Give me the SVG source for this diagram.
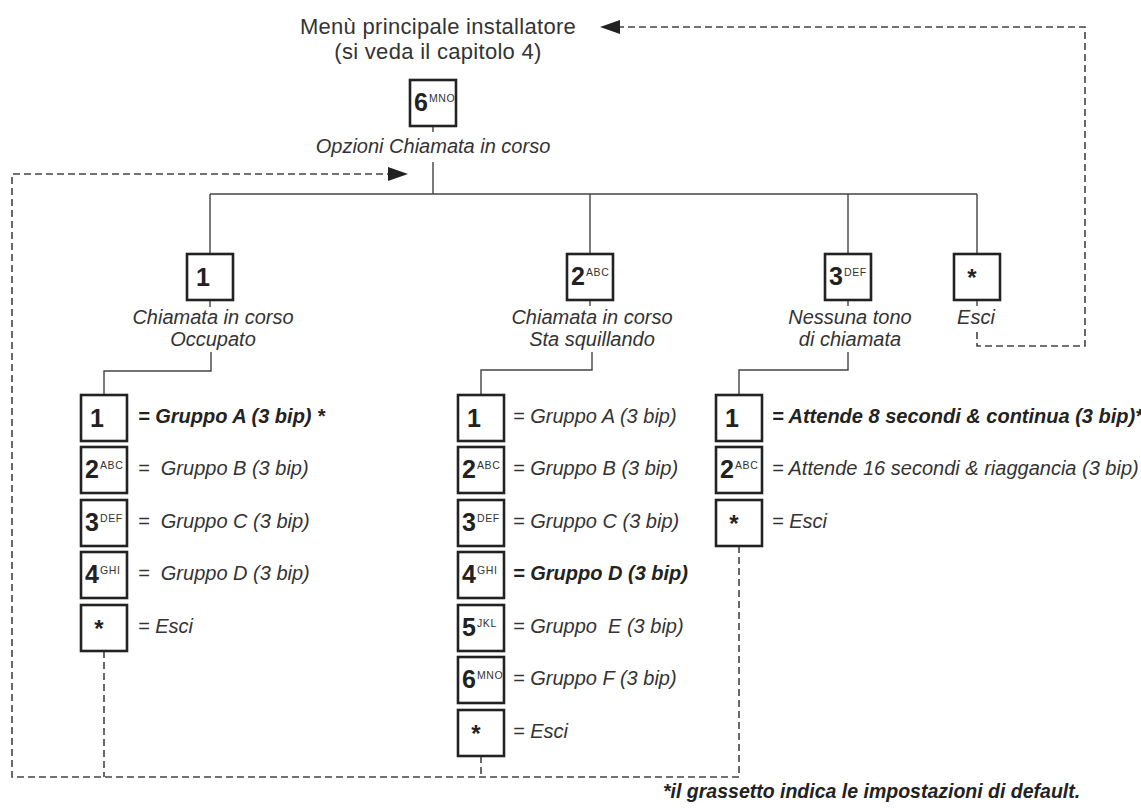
<svg xmlns="http://www.w3.org/2000/svg" width="1141" height="809" viewBox="0 0 1141 809">
<defs>
<marker id="ah" markerUnits="userSpaceOnUse" markerWidth="22" markerHeight="16" refX="0" refY="7" orient="auto">
<path d="M0,0 L20,7 L0,14 z" fill="#222"/>
</marker>
<style>
.box{fill:#fff;stroke:#222;stroke-width:2.6}
.ln{stroke:#444;stroke-width:1.4;fill:none}
.dash{stroke:#444;stroke-width:1.6;fill:none;stroke-dasharray:7 4}
.key{font-family:"Liberation Sans",Arial,sans-serif;font-weight:bold;font-size:25px;fill:#222}
.sup{font-family:"Liberation Sans",Arial,sans-serif;font-size:10.5px;fill:#333;letter-spacing:0.6px}
.star{font-family:"Liberation Sans",Arial,sans-serif;font-weight:bold;font-size:24px;fill:#222;text-anchor:middle}
.lbl{font-family:"Liberation Sans",Arial,sans-serif;font-style:italic;font-size:20px;fill:#333;text-anchor:middle}
.opt{font-family:"Liberation Sans",Arial,sans-serif;font-style:italic;font-size:20px;fill:#333;white-space:pre}
.b{font-weight:bold;fill:#222}
.title{font-family:"Liberation Sans",Arial,sans-serif;font-size:22px;fill:#333;text-anchor:middle;letter-spacing:0.3px}
.foot{font-family:"Liberation Sans",Arial,sans-serif;font-style:italic;font-weight:bold;font-size:19.5px;fill:#222}
</style>
</defs>
<rect width="1141" height="809" fill="#fff"/>

<g id="title">
<text class="title" x="438" y="34">Menù principale installatore</text>
<text class="title" x="438" y="59">(si veda il capitolo 4)</text>
</g>

<g id="connectors">
<path class="ln" d="M433 126V132M433 162V194M210 194H977M210 194V254M590 194V254M848 194V254M977 194V254M210 300V307M590 300V306M848 300V306M977 300V306"/>
<path class="ln" d="M211 352V371H104V395M592 352V370H481V395M848 352V370H739V395"/>
<path class="dash" d="M739 546V777H12V174H388" marker-end="url(#ah)"/>
<path class="dash" d="M104 651V777M481 756V777"/>
<path class="dash" d="M977 332V346H1085V27H620" marker-end="url(#ah)"/>
</g>

<g id="n-6mno">
<rect class="box" x="410" y="80" width="46" height="46"/>
<text class="key" x="414" y="111">6</text><text class="sup" x="429" y="101.5">MNO</text>
<text class="lbl" x="433" y="153">Opzioni Chiamata in corso</text>
</g>

<g id="n-occupato">
<rect class="box" x="187" y="254" width="46" height="46"/>
<text class="key" x="196" y="286">1</text>
<text class="lbl" x="213" y="324">Chiamata in corso</text>
<text class="lbl" x="213" y="346">Occupato</text>
</g>
<g id="n-squillando">
<rect class="box" x="567" y="254" width="46" height="46"/>
<text class="key" x="571" y="285">2</text><text class="sup" x="586" y="275.5">ABC</text>
<text class="lbl" x="592" y="324">Chiamata in corso</text>
<text class="lbl" x="592" y="346">Sta squillando</text>
</g>
<g id="n-nessuna">
<rect class="box" x="825" y="254" width="46" height="46"/>
<text class="key" x="829" y="285">3</text><text class="sup" x="844" y="275.5">DEF</text>
<text class="lbl" x="850" y="324">Nessuna tono</text>
<text class="lbl" x="850" y="346">di chiamata</text>
</g>
<g id="n-esci-top">
<rect class="box" x="954" y="254" width="46" height="46"/>
<text class="star" x="972" y="286">*</text>
<text class="lbl" x="976" y="324">Esci</text>
</g>

<g id="n-col1">
<rect class="box" x="81" y="395" width="46" height="46"/>
<text class="key" x="90" y="427">1</text>
<text class="opt b" x="138" y="423" xml:space="preserve">= Gruppo A (3 bip) *</text>
<rect class="box" x="81" y="447" width="46" height="46"/>
<text class="key" x="85" y="478">2</text><text class="sup" x="100" y="468.5">ABC</text>
<text class="opt" x="138" y="475" xml:space="preserve">=  Gruppo B (3 bip)</text>
<rect class="box" x="81" y="500" width="46" height="46"/>
<text class="key" x="85" y="531">3</text><text class="sup" x="100" y="521.5">DEF</text>
<text class="opt" x="138" y="528" xml:space="preserve">=  Gruppo C (3 bip)</text>
<rect class="box" x="81" y="552" width="46" height="46"/>
<text class="key" x="85" y="583">4</text><text class="sup" x="100" y="573.5">GHI</text>
<text class="opt" x="138" y="580" xml:space="preserve">=  Gruppo D (3 bip)</text>
<rect class="box" x="81" y="605" width="46" height="46"/>
<text class="star" x="99" y="637">*</text>
<text class="opt" x="138" y="633">= Esci</text>
</g>

<g id="n-col2">
<rect class="box" x="458" y="395" width="46" height="46"/>
<text class="key" x="467" y="427">1</text>
<text class="opt" x="513" y="423">= Gruppo A (3 bip)</text>
<rect class="box" x="458" y="447" width="46" height="46"/>
<text class="key" x="462" y="478">2</text><text class="sup" x="477" y="468.5">ABC</text>
<text class="opt" x="513" y="475">= Gruppo B (3 bip)</text>
<rect class="box" x="458" y="500" width="46" height="46"/>
<text class="key" x="462" y="531">3</text><text class="sup" x="477" y="521.5">DEF</text>
<text class="opt" x="513" y="528">= Gruppo C (3 bip)</text>
<rect class="box" x="458" y="552" width="46" height="46"/>
<text class="key" x="462" y="583">4</text><text class="sup" x="477" y="573.5">GHI</text>
<text class="opt b" x="513" y="580">= Gruppo D (3 bip)</text>
<rect class="box" x="458" y="605" width="46" height="46"/>
<text class="key" x="462" y="636">5</text><text class="sup" x="477" y="626.5">JKL</text>
<text class="opt" x="513" y="633" xml:space="preserve">= Gruppo  E (3 bip)</text>
<rect class="box" x="458" y="657" width="46" height="46"/>
<text class="key" x="462" y="688">6</text><text class="sup" x="477" y="678.5">MNO</text>
<text class="opt" x="513" y="685">= Gruppo F (3 bip)</text>
<rect class="box" x="458" y="710" width="46" height="46"/>
<text class="star" x="476" y="742">*</text>
<text class="opt" x="513" y="738">= Esci</text>
</g>

<g id="n-col3">
<rect class="box" x="716" y="395" width="46" height="46"/>
<text class="key" x="725" y="427">1</text>
<text class="opt b" x="772" y="423">= Attende 8 secondi &amp; continua (3 bip)*</text>
<rect class="box" x="716" y="447" width="46" height="46"/>
<text class="key" x="720" y="478">2</text><text class="sup" x="735" y="468.5">ABC</text>
<text class="opt" x="772" y="475">= Attende 16 secondi &amp; riaggancia (3 bip)</text>
<rect class="box" x="716" y="500" width="46" height="46"/>
<text class="star" x="734" y="532">*</text>
<text class="opt" x="772" y="528">= Esci</text>
</g>

<g id="footnote">
<text class="foot" x="663" y="798">*il grassetto indica le impostazioni di default.</text>
</g>
</svg>
